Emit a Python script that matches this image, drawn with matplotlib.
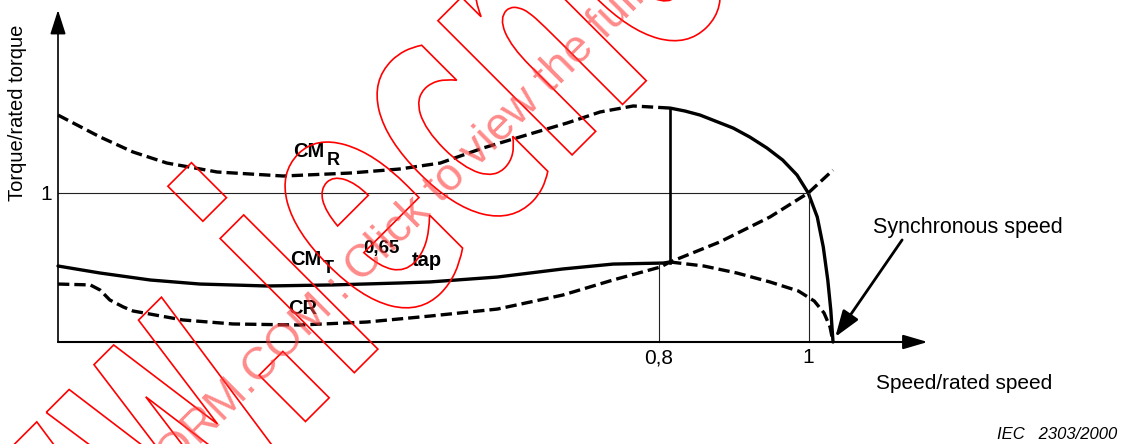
import matplotlib
matplotlib.use('Agg')
import matplotlib.pyplot as plt
from matplotlib import transforms
from matplotlib.font_manager import FontProperties
from matplotlib.patches import PathPatch
from matplotlib.textpath import TextPath, text_to_path

plt.rcParams['font.family'] = ['Liberation Sans', 'DejaVu Sans']

W, H = 1123, 444

# maximum torque CM_R: dashed up to the switch-over speed, then solid to synchronism
cmr_dash_x = [0.000, 0.056, 0.100, 0.145, 0.212, 0.300, 0.389, 0.455, 0.509, 0.566, 0.633, 0.678, 0.722, 0.766, 0.815]
cmr_dash_y = [1.523, 1.376, 1.275, 1.201, 1.141, 1.114, 1.134, 1.161, 1.201, 1.302, 1.403, 1.470, 1.544, 1.584, 1.570]
cmr_solid_x = [0.815, 0.835, 0.855, 0.899, 0.921, 0.944, 0.965, 0.984, 0.999, 1.011, 1.019, 1.025, 1.029, 1.032]
cmr_solid_y = [1.570, 1.550, 1.523, 1.436, 1.376, 1.302, 1.221, 1.121, 1.000, 0.839, 0.638, 0.416, 0.215, 0.000]

# torque on the 0,65 tap CM_T: solid up to the switch-over speed, dashed beyond
cmt_solid_x = [0.000, 0.056, 0.123, 0.189, 0.278, 0.366, 0.455, 0.495, 0.585, 0.672, 0.739, 0.806, 0.815]
cmt_solid_y = [0.510, 0.463, 0.416, 0.389, 0.376, 0.383, 0.396, 0.403, 0.436, 0.490, 0.523, 0.530, 0.537]
cmt_dash_x = [0.815, 0.860, 0.904, 0.948, 0.986, 1.007, 1.020, 1.028, 1.032]
cmt_dash_y = [0.537, 0.510, 0.463, 0.403, 0.342, 0.275, 0.195, 0.101, 0.000]

# load torque CR
cr_x = [0.000, 0.043, 0.056, 0.069, 0.087, 0.100, 0.166, 0.233, 0.322, 0.411, 0.495, 0.585, 0.672, 0.739, 0.802, 0.815, 0.881, 0.948, 0.999, 1.032]
cr_y = [0.389, 0.383, 0.349, 0.282, 0.235, 0.208, 0.148, 0.121, 0.114, 0.134, 0.174, 0.221, 0.315, 0.416, 0.503, 0.537, 0.671, 0.839, 1.000, 1.154]

switch_speed = 0.8
switch_torque = 0.53
jump_speed = 0.815
rated = 1.0

fig = plt.figure(figsize=(W / 100, H / 100), dpi=100)
ax = fig.add_axes([0, 0, 1, 1])
# pixel position of speed 0 / 1 and torque 0 / 1
x0p, x1p = 58, 809
y0p, y1p = 342, 193
ax.set_xlim(-x0p / (x1p - x0p), (W - x0p) / (x1p - x0p))
ax.set_ylim(-(H - y0p) / (y0p - y1p), y0p / (y0p - y1p))
ax.axis('off')

# image pixel coordinates (origin top left) for the texts and the overprint
px = transforms.Affine2D().scale(1, -1).translate(0, H)

dash = (3.4, 1.5)
lw = 2.4
ax.plot(cmr_dash_x, cmr_dash_y, color='black', lw=lw, dashes=dash)
ax.plot(cmr_solid_x, cmr_solid_y, color='black', lw=lw, solid_capstyle='round', solid_joinstyle='round')
ax.plot(cmt_solid_x, cmt_solid_y, color='black', lw=lw, solid_capstyle='round', solid_joinstyle='round')
ax.plot(cmt_dash_x, cmt_dash_y, color='black', lw=lw, dashes=dash)
ax.plot(cr_x, cr_y, color='black', lw=lw, dashes=dash)

# reference lines
ax.plot([0, rated], [1, 1], color='#222222', lw=0.8)
ax.plot([rated, rated], [0, 1], color='#222222', lw=0.8)
ax.plot([switch_speed, switch_speed], [0, switch_torque], color='#222222', lw=0.8)
ax.plot([jump_speed, jump_speed], [switch_torque, cmr_dash_y[-1]], color='black', lw=1.9)

# axes with arrow heads
ax.annotate('', xy=(1.158, 0), xytext=(0, 0),
            arrowprops=dict(arrowstyle='-|>,head_length=0.75,head_width=0.22',
                            mutation_scale=20, lw=1.5, color='black', shrinkA=0, shrinkB=0))
ax.annotate('', xy=(0, 2.228), xytext=(0, 0),
            arrowprops=dict(arrowstyle='-|>,head_length=0.75,head_width=0.24',
                            mutation_scale=20, lw=1.2, color='black', shrinkA=0, shrinkB=0))
ax.annotate('', xy=(1.035, 0.034), xytext=(1.124, 0.685),
            arrowprops=dict(arrowstyle='-|>,head_length=0.8,head_width=0.28',
                            mutation_scale=20, lw=2.0, color='black', shrinkA=0, shrinkB=0))

# texts
ax.text(659, 363, '0,8', transform=px, ha='center', va='baseline', fontsize=15)
ax.text(808, 363, '1', transform=px, ha='center', va='baseline', fontsize=15)
ax.text(52, 200, '1', transform=px, ha='right', va='baseline', fontsize=15)
ax.text(18, 113, 'Torque/rated torque', transform=px, rotation=90,
        ha='center', va='center', fontsize=14.5)
ax.text(873, 233, 'Synchronous speed', transform=px, ha='left', va='baseline', fontsize=15.5)
ax.text(876, 389, 'Speed/rated speed', transform=px, ha='left', va='baseline', fontsize=15)
ax.text(1117, 439, 'IEC   2303/2000', transform=px, ha='right', va='baseline',
        fontsize=12, style='italic')

bold = dict(transform=px, va='baseline', fontweight='bold')
ax.text(293, 157, 'CM', fontsize=14.5, **bold)
ax.text(327, 165, 'R', fontsize=13, **bold)
ax.text(290, 265, 'CM', fontsize=14.5, **bold)
ax.text(323, 273, 'T', fontsize=13, **bold)
ax.text(363, 253, '0,65', fontsize=13.5, **bold)
ax.text(412, 266, 'tap', fontsize=14.5, **bold)
ax.text(288, 314, 'CR', fontsize=14.5, **bold)

# overprint: outlined big lettering and pink line of text, both at 45 degrees
big_fp = FontProperties(family='DejaVu Sans', weight='bold', size=347)
lead_w = text_to_path.get_text_width_height_descent('www.', big_fp, ismath=False)[0]
big = TextPath((0, 0), 'www.iecnorm.com', size=347, prop=big_fp)
big_tr = (transforms.Affine2D().translate(-lead_w, 0).scale(0.55, 1)
          .rotate_deg(45).translate(343, H - 384))
fig.add_artist(PathPatch(big_tr.transform_path(big), transform=transforms.IdentityTransform(),
                         facecolor='none', edgecolor='red', lw=1.2, zorder=5))

pink_fp = FontProperties(family='Liberation Sans', size=33)
pre = 'IECNORM.COM : '
pre_w = text_to_path.get_text_width_height_descent(pre, pink_fp, ismath=False)[0] * 100 / 72
c45 = 0.7071
fig.text(361 - pre_w * c45, 160 - pre_w * c45,
         pre + 'Click to view the full',
         transform=transforms.IdentityTransform(), rotation=45, rotation_mode='anchor',
         ha='left', va='baseline', fontproperties=pink_fp, color='#ff3b3b', alpha=0.6, zorder=6)

fig.savefig('out.png', dpi=100)
